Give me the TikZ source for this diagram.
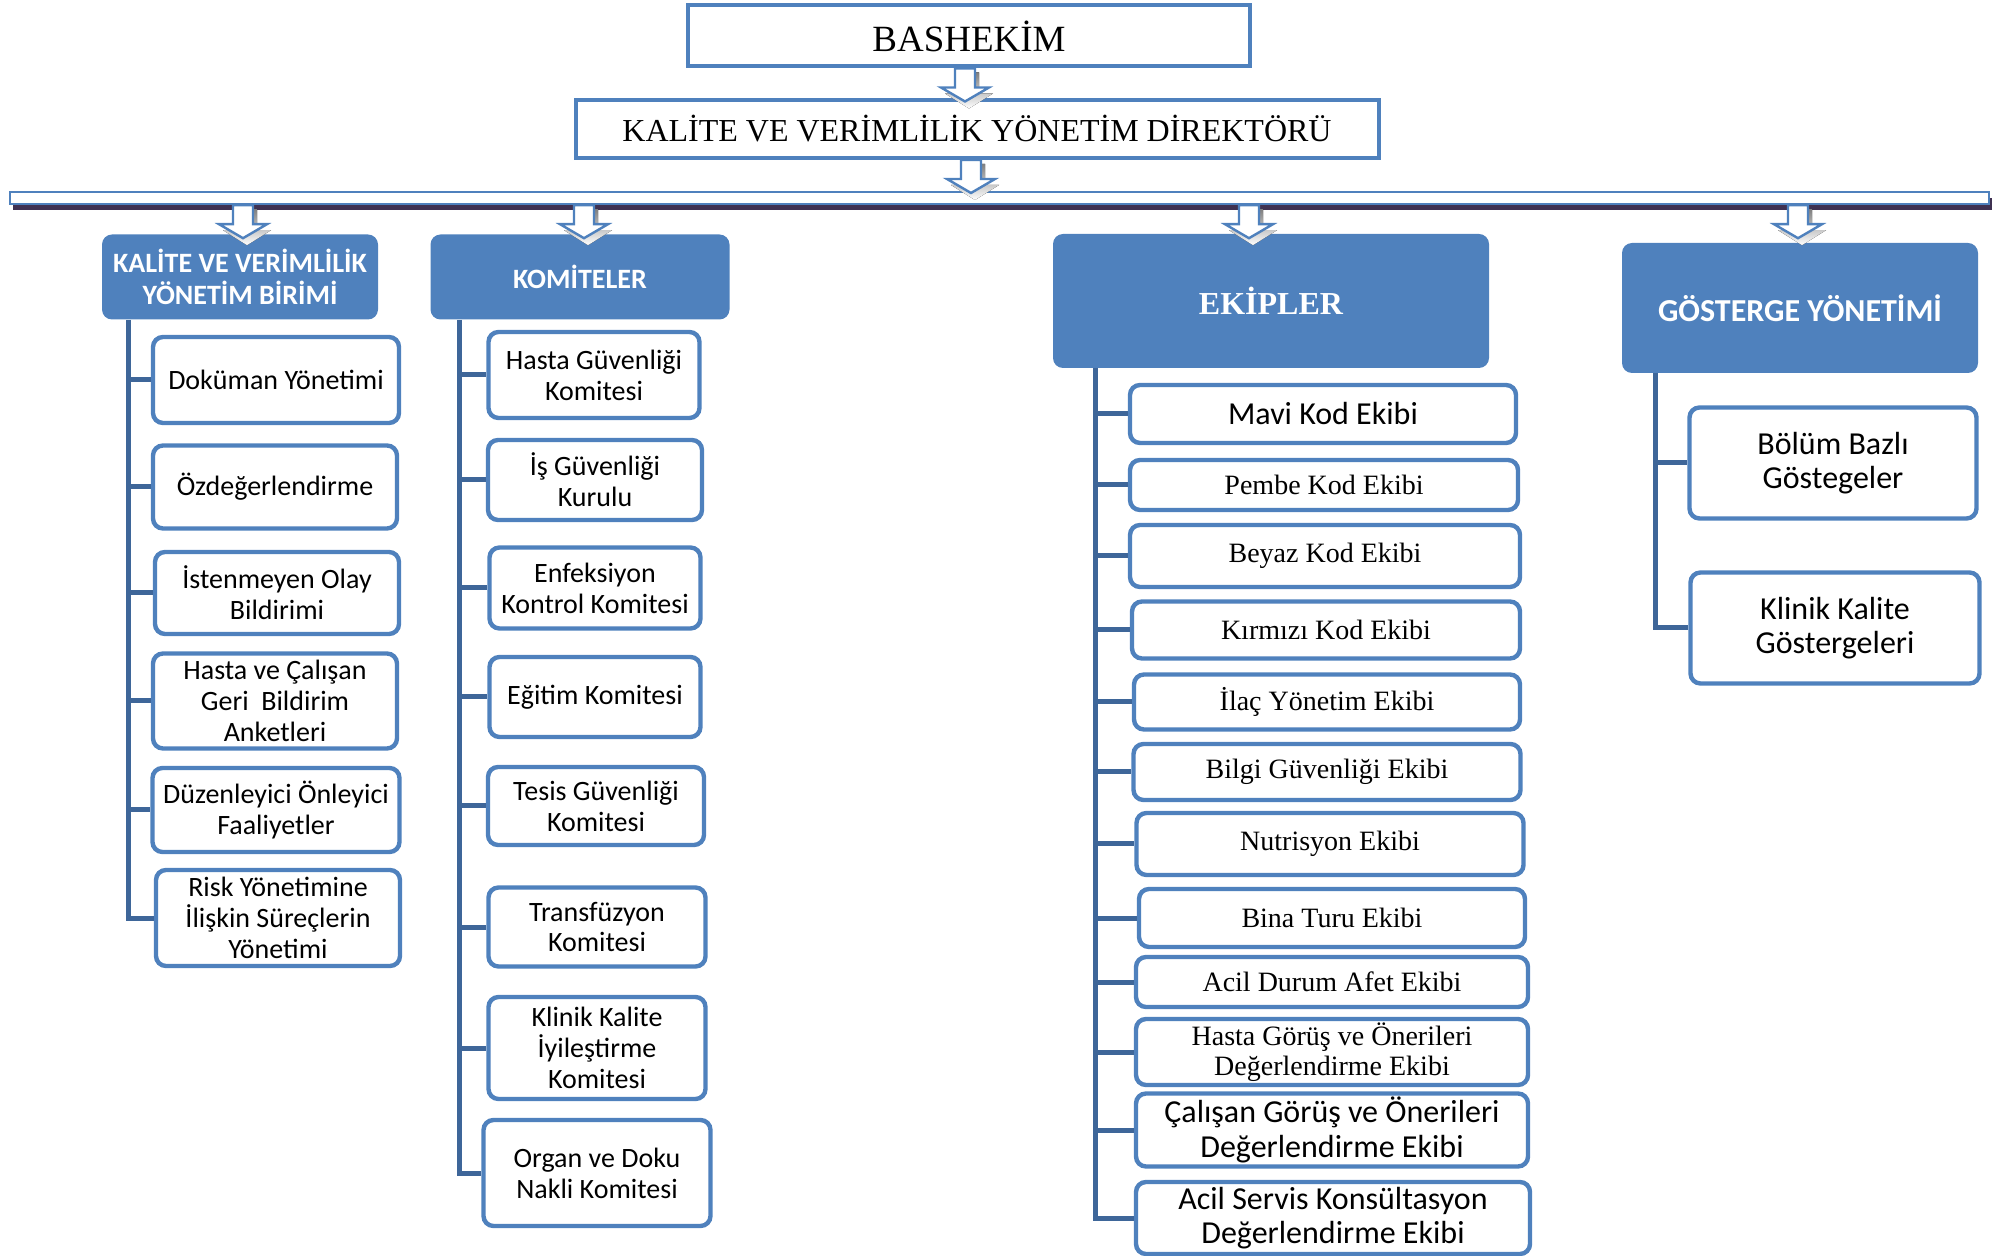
\documentclass[tikz,border=0pt]{standalone}
\usepackage{fontspec}
\setmainfont{Carlito}
\newfontfamily\timesfont{Liberation Serif}
\usetikzlibrary{positioning,shadows}
\definecolor{ofblue}{HTML}{4F81BD}
\definecolor{linkblue}{HTML}{3E6699}
\definecolor{shade}{HTML}{3F3151}

\tikzset{
	boxsize/.style 2 args={minimum width=#1*.5pt, minimum height=#2*.5pt},
	topbox/.style={draw=ofblue, line width=2pt, fill=white, inner sep=0pt, font=\timesfont\fontsize{16}{19}\selectfont},
	bar/.style={draw=ofblue, line width=1.2pt, fill=white, inner sep=0pt,
		drop shadow={shadow xshift=1.5pt, shadow yshift=-3pt, fill=shade, opacity=1}},
	head/.style={fill=ofblue, rounded corners=5pt, text=white, align=center, inner sep=0pt, font=\bfseries\fontsize{14}{16}\selectfont},
	item/.style={draw=ofblue, line width=2.2pt, fill=white, rounded corners=5pt, align=center, inner sep=0pt, font=\fontsize{14}{15.4}\selectfont},
	bigitem/.style={item, font=\fontsize{16}{17.3}\selectfont},
	titem/.style={item, font=\timesfont\fontsize{14}{14.7}\selectfont},
	trunk/.style={draw=linkblue, line width=2.5pt},
	pics/downarrow/.style={code={
		\fill[shade] (-6,4) -- (14,4) -- (14,25) -- (28,25) -- (4,40) -- (-20,25) -- (-6,25) -- cycle;
		\draw[ofblue, fill=white, line width=1.2pt] (-10,0) -- (10,0) -- (10,19) -- (24,19) -- (0,33) -- (-24,19) -- (-10,19) -- cycle;
	}}
}

\begin{document}
\begin{tikzpicture}[x=.5pt, y=-.5pt]
	\useasboundingbox (0,0) rectangle (2004,1256);

%% Top of the chart
	\node[topbox, boxsize={562}{61}, text depth=0pt, font=\timesfont\fontsize{18.5}{21}\selectfont] (bas) at (969,36) {BASHEKİM};
	\node[topbox, boxsize={803}{58}] (dir) at (977,129) {KALİTE VE VERİMLİLİK YÖNETİM DİREKTÖRÜ};
	\node[bar, boxsize={1979}{12}] (bar) at (999.5,198) {};
	\pic at ([xshift=-2pt]bas.south) {downarrow};
	\pic at ([xshift=-3pt]dir.south) {downarrow};

%% Headers
	\node[head, boxsize={276}{85}] (h1) at (240,277) {KALİTE VE VERİMLİLİK\\YÖNETİM BİRİMİ};
	\node[head, boxsize={299}{85}] (h2) at (580,277) {KOMİTELER};
	\node[head, boxsize={436}{134}, font=\timesfont\bfseries\fontsize{16}{19}\selectfont] (h3) at (1271,301) {EKİPLER};
	\node[head, boxsize={356}{130}, font=\bfseries\fontsize{16}{19}\selectfont] (h4) at (1800,308) {GÖSTERGE YÖNETİMİ};
	\pic at ([xshift=1.5pt]bar.south -| h1.north) {downarrow};
	\pic at ([xshift=2pt]bar.south -| h2.north) {downarrow};
	\pic at ([xshift=-11pt]bar.south -| h3.north) {downarrow};
	\pic at ([xshift=-1pt]bar.south -| h4.north) {downarrow};

%% Kalite ve verimlilik yonetim birimi
	\node[item, boxsize={246}{86}] (d1) at (276,380) {Doküman Yönetimi};
	\node[item, boxsize={244}{83}] (d2) at (275,487) {Özdeğerlendirme};
	\node[item, boxsize={244}{82}] (d3) at (277,593) {İstenmeyen Olay\\Bildirimi};
	\node[item, boxsize={244}{95}] (d4) at (275,701) {Hasta ve Çalışan\\Geri\ \ Bildirim\\Anketleri};
	\node[item, boxsize={247}{84}] (d5) at (276,810) {Düzenleyici Önleyici\\Faaliyetler};
	\node[item, boxsize={244}{96}] (d6) at (278,918) {Risk Yönetimine\\İlişkin Süreçlerin\\Yönetimi};

%% Komiteler
	\node[item, boxsize={211}{86}] (k1) at (594,375) {Hasta Güvenliği\\Komitesi};
	\node[item, boxsize={214}{80}] (k2) at (595,480) {İş Güvenliği\\Kurulu};
	\node[item, boxsize={211}{81}] (k3) at (595,588) {Enfeksiyon\\Kontrol Komitesi};
	\node[item, boxsize={211}{80}] (k4) at (595,697) {Eğitim Komitesi};
	\node[item, boxsize={216}{78}] (k5) at (596,806) {Tesis Güvenliği\\Komitesi};
	\node[item, boxsize={217}{79}] (k6) at (597,927) {Transfüzyon\\Komitesi};
	\node[item, boxsize={217}{102}] (k7) at (597,1048) {Klinik Kalite\\İyileştirme\\Komitesi};
	\node[item, boxsize={227}{106}] (k8) at (597,1173) {Organ ve Doku\\Nakli Komitesi};

%% Ekipler
	\node[bigitem, boxsize={386}{58}] (e1) at (1323,414) {Mavi Kod Ekibi};
	\node[titem, boxsize={388}{50}] (e2) at (1324,485) {Pembe Kod Ekibi};
	\node[titem, boxsize={390}{62}] (e3) at (1325,556) {Beyaz Kod Ekibi};
	\node[titem, boxsize={388}{57}] (e4) at (1326,630) {Kırmızı Kod Ekibi};
	\node[titem, boxsize={386}{55}] (e5) at (1327,702) {İlaç Yönetim Ekibi};
	\node[titem, boxsize={387}{56}] (e6) at (1327,772) {Bilgi Güvenliği Ekibi};
	\node[titem, boxsize={387}{62}] (e7) at (1330,844) {Nutrisyon Ekibi};
	\node[titem, boxsize={386}{58}] (e8) at (1332,918) {Bina Turu Ekibi};
	\node[titem, boxsize={392}{50}] (e9) at (1332,982) {Acil Durum Afet Ekibi};
	\node[titem, boxsize={392}{66}] (e10) at (1332,1052) {Hasta Görüş ve Önerileri\\Değerlendirme Ekibi};
	\node[bigitem, boxsize={392}{73}] (e11) at (1332,1130) {Çalışan Görüş ve Önerileri\\Değerlendirme Ekibi};
	\node[bigitem, boxsize={394}{72}] (e12) at (1333,1218) {Acil Servis Konsültasyon\\Değerlendirme Ekibi};

%% Gosterge yonetimi
	\node[bigitem, boxsize={287}{111}] (g1) at (1833,463) {Bölüm Bazlı\\Göstegeler};
	\node[bigitem, boxsize={289}{111}] (g2) at (1835,628) {Klinik Kalite\\Göstergeleri};

%% Trunks and branches
	\coordinate (t1) at (128,320);
	\coordinate (t2) at (459,320);
	\coordinate (t3) at (1095,368);
	\coordinate (t4) at (1655,373);
	\draw[trunk] (t1) |- (d6.west);
	\draw[trunk] (t2) |- (k8.west);
	\draw[trunk] (t3) |- (e12.west);
	\draw[trunk] (t4) |- (g2.west);
	\foreach \n in {d1,d2,d3,d4,d5}
		\draw[trunk] (t1 |- \n.west) -- (\n.west);
	\foreach \n in {k1,k2,k3,k4,k5,k6,k7}
		\draw[trunk] (t2 |- \n.west) -- (\n.west);
	\foreach \n in {e1,e2,e3,e4,e5,e6,e7,e8,e9,e10,e11}
		\draw[trunk] (t3 |- \n.west) -- (\n.west);
	\draw[trunk] (t4 |- g1.west) -- (g1.west);

\end{tikzpicture}
\end{document}
